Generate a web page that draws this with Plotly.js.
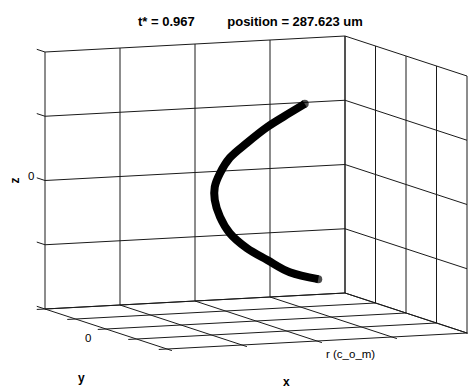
<!DOCTYPE html>
<html>
<head>
<meta charset="utf-8">
<script src="https://cdn.plot.ly/plotly-3.0.1.min.js"></script>
<style>
html,body{margin:0;padding:0;background:#fff;}
#chart{width:468px;height:392px;}
</style>
</head>
<body>
<div id="chart"></div>
<script>
// ---- data (3D, axis units; box spans -2..2 on every axis) ----
const curveX = [0.65, 0.45, 0.15, -0.12, -0.35, -0.48, -0.55, -0.55, -0.48, -0.35, -0.12, 0.15, 0.45, 0.83];
const curveY = [0, 0, 0, 0, 0, 0, 0, 0, 0, 0, 0, 0, 0, 0];
const curveZ = [1.34, 1.21, 1.01, 0.78, 0.56, 0.33, 0.12, -0.08, -0.35, -0.61, -0.86, -1.06, -1.27, -1.40];

const xTickVals = [-2, -1, 0, 1, 2];
const xTickText = ['', '', 'r (c_o_m)', '', ''];
const yTickVals = [-2, -1, 0, 1, 2];
const yTickText = ['', '', '0', '', ''];
const zTickVals = [-2, -1, 0, 1, 2];
const zTickText = ['', '', '0', '', ''];

const titleText = 't* = 0.967' + '\u00a0'.repeat(9) + 'position = 287.623 um';

// ---- fixed oblique view (orthographic, az/el like the original) ----
const LO = -2, HI = 2;
const view = {ox: 256, oy: 192.5, ex: [75, -4], ey: [-30.5, -10], ez: [0, -64.25]};
function P(x, y, z) {
  return [view.ox + x * view.ex[0] + y * view.ey[0] + z * view.ez[0],
          view.oy + x * view.ex[1] + y * view.ey[1] + z * view.ez[1]];
}

// grid / box segments built from the tick arrays
const gx = [], gy = [];
function seg(a, b) { gx.push(a[0], b[0], null); gy.push(a[1], b[1], null); }
// back wall (y = HI)
xTickVals.forEach(v => seg(P(v, HI, LO), P(v, HI, HI)));
zTickVals.forEach(v => seg(P(LO, HI, v), P(HI, HI, v)));
// side wall (x = HI)
yTickVals.forEach(v => seg(P(HI, v, LO), P(HI, v, HI)));
zTickVals.forEach(v => seg(P(HI, LO, v), P(HI, HI, v)));
// floor (z = LO)
xTickVals.forEach(v => seg(P(v, LO, LO), P(v, HI, LO)));
yTickVals.forEach(v => seg(P(LO, v, LO), P(HI, v, LO)));

// outward tick marks
const tx = [], ty = [];
function tseg(a, b) { tx.push(a[0], b[0], null); ty.push(a[1], b[1], null); }
xTickVals.forEach(v => tseg(P(v, LO, LO), P(v, LO - 0.16, LO)));
yTickVals.forEach(v => tseg(P(LO, v, LO), P(LO - 0.11, v, LO)));
zTickVals.forEach(v => tseg(P(LO, HI, v), P(LO, HI + 0.27, v)));

const cpts = curveX.map((x, i) => P(x, curveY[i], curveZ[i]));
const endSizes = curveX.map((_, i) => (i === 0 || i === curveX.length - 1) ? 8 : 0);

const font = 'Liberation Sans, Arial, Helvetica, sans-serif';
const traces = [
  {type: 'scatter', mode: 'lines', x: gx, y: gy, line: {color: '#1a1a1a', width: 1},
   hoverinfo: 'skip', connectgaps: false},
  {type: 'scatter', mode: 'lines', x: tx, y: ty, line: {color: '#1a1a1a', width: 1},
   hoverinfo: 'skip', connectgaps: false},
  {type: 'scatter', mode: 'lines+markers', x: cpts.map(p => p[0]), y: cpts.map(p => p[1]),
   line: {color: '#000', width: 8, shape: 'spline', smoothing: 1},
   marker: {color: '#000', size: endSizes, line: {width: 0}}, hoverinfo: 'skip'}
];

const ann = [];
function label(pt, text, xs, ys, opts) {
  ann.push(Object.assign({x: pt[0], y: pt[1], xref: 'x', yref: 'y', text: text, showarrow: false,
    xanchor: 'center', yanchor: 'middle', xshift: xs, yshift: ys,
    font: {family: font, size: 11.5, color: '#000'}}, opts || {}));
}
// tick labels
xTickVals.forEach((v, i) => { if (xTickText[i]) label(P(v, LO, LO), xTickText[i], 33, -13); });
yTickVals.forEach((v, i) => { if (yTickText[i]) label(P(LO, v, LO), yTickText[i], -18, -9); });
zTickVals.forEach((v, i) => { if (zTickText[i]) label(P(LO, HI, v), zTickText[i], -14.5, 4.5); });
// axis titles
label(P(0, LO, LO), '<b>x</b>', -30.5, -41, {font: {family: font, size: 12, color: '#000'}});
label(P(LO, 0, LO), '<b>y</b>', -24.5, -49, {font: {family: font, size: 12, color: '#000'}});
label(P(LO, HI, 0), '<b>z</b>', -31, 0, {textangle: -90, font: {family: font, size: 12, color: '#000'}});

const layout = {
  width: 468, height: 392,
  margin: {l: 0, r: 0, t: 0, b: 0},
  paper_bgcolor: '#fff', plot_bgcolor: '#fff',
  showlegend: false,
  title: {
    text: '<b>' + titleText + '</b>',
    x: 0.535, xanchor: 'center', xref: 'paper',
    y: 1 - 21 / 392, yanchor: 'middle', yref: 'container',
    font: {family: font, size: 13, color: '#000'}
  },
  xaxis: {range: [0, 468], visible: false, fixedrange: true},
  yaxis: {range: [392, 0], visible: false, fixedrange: true},
  annotations: ann
};

Plotly.newPlot('chart', traces, layout, {displayModeBar: false, staticPlot: true});
</script>
</body>
</html>
